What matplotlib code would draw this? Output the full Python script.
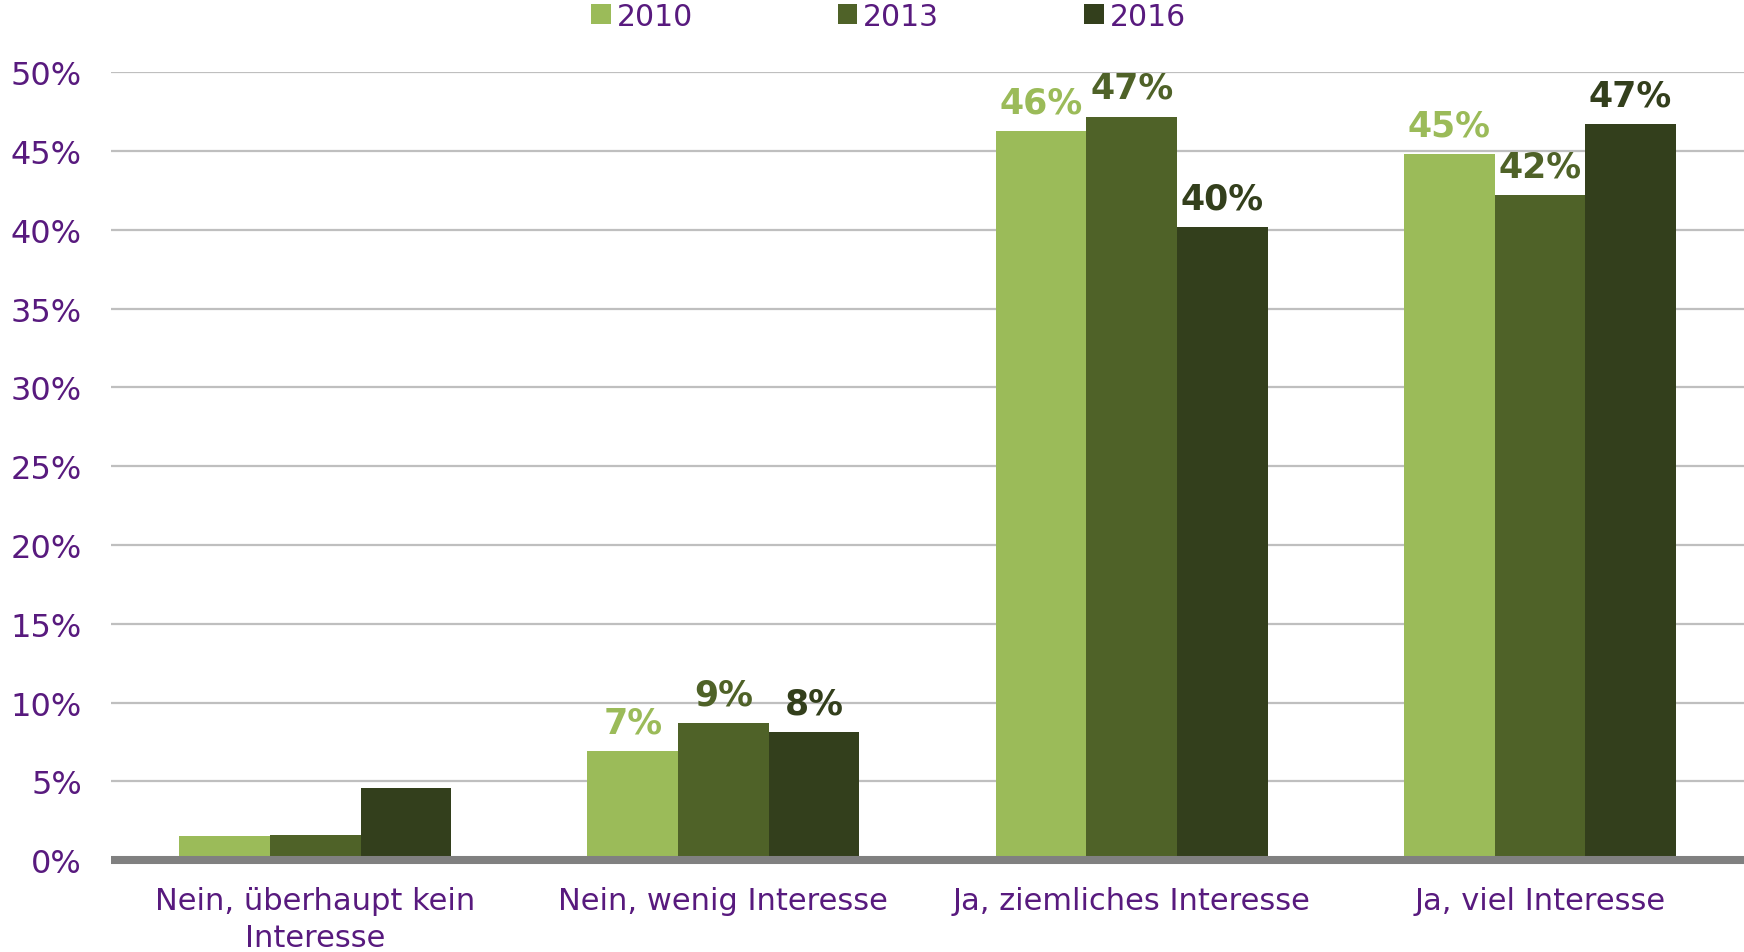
import numpy as np
import matplotlib.pyplot as plt
from matplotlib.patches import Patch

# data
categories = ["Nein, überhaupt kein\nInteresse", "Nein, wenig Interesse",
              "Ja, ziemliches Interesse", "Ja, viel Interesse"]
years = ["2010", "2013", "2016"]
values_2010 = [1.5, 6.9, 46.3, 44.8]
values_2013 = [1.6, 8.7, 47.2, 42.2]
values_2016 = [4.6, 8.1, 40.2, 46.7]
show_labels = [False, True, True, True]
yticks = [0, 5, 10, 15, 20, 25, 30, 35, 40, 45, 50]

colors = ["#9bbb59", "#4f6228", "#333f1c"]
text_color = "#581a7e"

plt.rcParams["font.family"] = ["DejaVu Sans"]

fig = plt.figure(figsize=(17.44, 9.53), dpi=100)
ax = fig.add_axes([0.0637, 0.0965, 0.9363, 0.8264])

x = np.arange(len(categories))
w = 0.222
series = [values_2010, values_2013, values_2016]
for i, (vals, col) in enumerate(zip(series, colors)):
    bars = ax.bar(x + (i - 1) * w, vals, width=w, color=col, zorder=2,
                  edgecolor="none")
    for b, v, show in zip(bars, vals, show_labels):
        if not show:
            continue
        ax.annotate("{:.0f}%".format(v),
                    (b.get_x() + b.get_width() / 2, b.get_height()),
                    xytext=(0, 13.5), textcoords="offset points",
                    ha="center", va="baseline", fontsize=25,
                    fontweight="bold", color=col, zorder=3)

ax.set_xlim(-0.5, len(categories) - 0.5)
ax.set_ylim(0, 50)
ax.set_yticks(yticks)
ax.set_yticklabels(["{}%".format(t) for t in yticks])
ax.set_xticks(x)
ax.set_xticklabels(categories, linespacing=1.35)

ax.tick_params(axis="y", length=0, pad=21, labelsize=23,
               labelcolor=text_color)
ax.tick_params(axis="x", length=0, pad=19, labelsize=22,
               labelcolor=text_color)

ax.grid(axis="y", color="#bfbfbf", linewidth=1.6, zorder=0)
ax.set_axisbelow(True)
for s in ["left", "right", "top"]:
    ax.spines[s].set_visible(False)
ax.spines["bottom"].set_color("#808080")
ax.spines["bottom"].set_linewidth(5.8)
ax.spines["bottom"].set_capstyle("butt")
ax.spines["bottom"].set_zorder(4)

handles = [Patch(facecolor=c, edgecolor="none") for c in colors]
leg = fig.legend(handles, years, loc="center", bbox_to_anchor=(0.5095, 0.982),
                 ncol=3, frameon=False, fontsize=21.5, handlelength=0.65,
                 handleheight=0.65, handletextpad=0.2, columnspacing=4.85,
                 borderpad=0, borderaxespad=0)
for t in leg.get_texts():
    t.set_color(text_color)

fig.savefig("out.png", dpi=100)
